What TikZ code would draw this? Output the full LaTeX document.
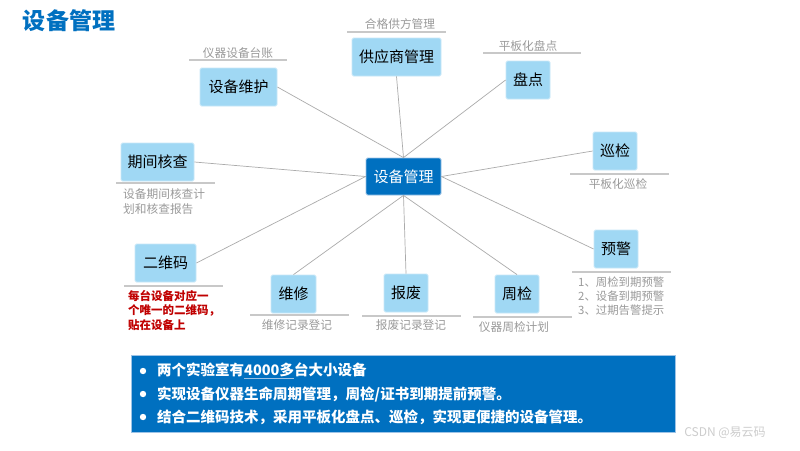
\documentclass[tikz,border=0pt]{standalone}
\usepackage{fontspec}
\setmainfont{Noto Sans CJK SC}
\definecolor{mainblue}{HTML}{0070C0}
\definecolor{boxfill}{HTML}{A0D8F4}
\definecolor{boxedge}{HTML}{C8E8F8}
\definecolor{lblgray}{HTML}{9A9A9A}
\definecolor{ulgray}{HTML}{C8C8C8}
\definecolor{conngray}{HTML}{ABABAB}
\definecolor{redtxt}{HTML}{C00000}
\definecolor{ulblue}{HTML}{9DC3E6}
\begin{document}
\begin{tikzpicture}[x=1pt,y=-1pt,
  box/.style={draw=boxedge,line width=0.8pt,fill=boxfill,rounded corners=1.5pt,
    minimum height=38pt,inner sep=0pt,font=\fontsize{15}{18}\selectfont},
  hub/.style={draw=ulblue,line width=0.8pt,fill=mainblue,rounded corners=1.5pt,
    minimum height=37pt,minimum width=75pt,inner sep=0pt,text=white,
    font=\fontsize{15}{18}\selectfont},
  lbl/.style={text=lblgray,inner sep=0pt,font=\fontsize{11.7}{14}\selectfont},
  uline/.style={draw=ulgray,line width=1.5pt},
  conn/.style={draw=conngray,line width=0.7pt},
  redlbl/.style={text=redtxt,inner sep=0pt,align=left,anchor=north west,
    font=\bfseries\fontsize{11.5}{14.5}\selectfont},
  bul/.style={text=white,inner sep=0pt,anchor=west,font=\bfseries\fontsize{14.5}{17}\selectfont}
]
\useasboundingbox[fill=white] (0,0) rectangle (800,450);

% title
\node[text=mainblue,inner sep=0pt,font=\bfseries\fontsize{23}{26}\selectfont] (title) at (69,21) {设备管理};

% hub
\node[hub] (c) at (403.5,176.5) {设备管理};

% boxes
\node[box,minimum width=77pt] (wh) at (238.5,87) {设备维护};
\node[box,minimum width=89pt] (gys) at (396.5,57) {供应商管理};
\node[box,minimum width=44pt] (pd) at (528,80) {盘点};
\node[box,minimum width=44pt] (xj) at (615,151) {巡检};
\node[box,minimum width=44pt] (yj) at (616,249) {预警};
\node[box,minimum width=73pt] (qj) at (157.5,162) {期间核查};
\node[box,minimum width=61pt] (ewm) at (165.5,263) {二维码};
\node[box,minimum width=45pt] (wx) at (293.5,294) {维修};
\node[box,minimum width=44pt] (bf) at (406,293) {报废};
\node[box,minimum width=44pt] (zj) at (517,294) {周检};

% connectors
\draw[conn] (c.north) -- (wh.east);
\draw[conn] (c.north) -- (gys.south);
\draw[conn] (c.north) -- (pd.west);
\draw[conn] (c.east) -- (xj.west);
\draw[conn] (c.east) -- (yj.west);
\draw[conn] (c.west) -- (qj.east);
\draw[conn] (c.west) -- (ewm.east);
\draw[conn] (c.south) -- (wx.north);
\draw[conn] (c.south) -- (bf.north);
\draw[conn] (c.south) -- (zj.north);

% underlines
\coordinate (u1a) at (189,60); \coordinate (u1b) at (287,60);
\coordinate (u2a) at (347,32); \coordinate (u2b) at (446,32);
\coordinate (u3a) at (483,53); \coordinate (u3b) at (581,53);
\coordinate (u4a) at (570,174); \coordinate (u4b) at (669,174);
\coordinate (u5a) at (572,272); \coordinate (u5b) at (671,272);
\coordinate (u6a) at (116,183); \coordinate (u6b) at (215,183);
\coordinate (u7a) at (124,286); \coordinate (u7b) at (223,286);
\coordinate (u8a) at (250,315); \coordinate (u8b) at (349,315);
\coordinate (u9a) at (362,316); \coordinate (u9b) at (461,316);
\coordinate (u10a) at (473,317); \coordinate (u10b) at (572,317);
\foreach \i in {1,...,10} {\draw[uline] (u\i a) -- (u\i b);}

% labels
\node[lbl] (l1) at (238,53) {仪器设备台账};
\node[lbl] (l2) at (400,24.5) {合格供方管理};
\node[lbl] (l3) at (528,46.5) {平板化盘点};
\node[lbl] (l4) at (618,184.5) {平板化巡检};
\node[lbl,align=left,anchor=north west,font=\fontsize{11.4}{13.6}\selectfont] (l5) at (578,277) {1、周检到期预警\\2、设备到期预警\\3、过期告警提示};
\node[lbl,align=left,anchor=north west,font=\fontsize{11.7}{15}\selectfont] (l6) at (123,188) {设备期间核查计\\划和核查报告};
\node[redlbl] (l7) at (128,290) {每台设备对应一\\个唯一的二维码，\\贴在设备上};
\node[lbl] (l8) at (297,325) {维修记录登记};
\node[lbl] (l9) at (411,325) {报废记录登记};
\node[lbl] (l10) at (514,327) {仪器周检计划};

% bottom panel
\node[draw=ulblue,line width=0.8pt,fill=mainblue,inner sep=0pt,minimum width=544pt,minimum height=77pt] (panel) at (403,393.5) {};
\foreach \yy in {371,394,417} {\fill[white] (143,\yy) circle (3.2pt);}
\node[bul] (b1) at (157,371) {两个实验室有\textcolor{ulblue}{\underline{\textcolor{white}{4000多}}}台大小设备};
\node[bul] (b2) at (157,394) {实现设备仪器生命周期管理，周检/证书到期提前预警。};
\node[bul] (b3) at (157,417) {结合二维码技术，采用平板化盘点、巡检，实现更便捷的设备管理。};

% watermark
\node[text=lblgray!50,inner sep=0pt,font=\fontsize{12}{14}\selectfont] (wm) at (725,433) {CSDN @易云码};
\end{tikzpicture}
\end{document}
